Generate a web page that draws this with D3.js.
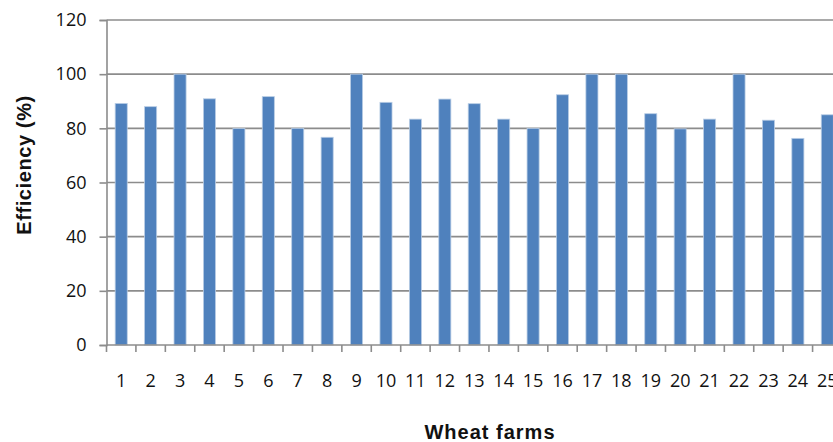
<!DOCTYPE html>
<html><head><meta charset="utf-8">
<script src="https://cdn.jsdelivr.net/npm/d3@7"></script>
<style>body{margin:0;background:#fff}svg{display:block}</style>
</head><body>
<script>
const categories = ["1","2","3","4","5","6","7","8","9","10","11","12","13","14","15","16","17","18","19","20","21","22","23","24","25"];
const efficiency = [89.2,88.0,100,90.9,79.9,91.7,80,76.7,100,89.6,83.4,90.8,89.1,83.4,80,92.4,100,100,85.4,79.8,83.4,100,83.0,76.3,85.0];
const yTicks = [0,20,40,60,80,100,120];

const W=833,H=442;
const svg=d3.select("body").append("svg").attr("width",W).attr("height",H);
const x=d3.scaleBand().domain(categories).range([106.5,842]).paddingInner(0.59).paddingOuter(0.295);
const y=d3.scaleLinear().domain([0,120]).range([345,20]);

// gridlines
svg.append("g").selectAll("line").data(yTicks.filter(d=>d>0)).join("line")
  .attr("x1",106.5).attr("x2",W).attr("y1",d=>y(d)).attr("y2",d=>y(d))
  .attr("stroke","#8c8c8c").attr("stroke-width",1.6);

// bars
svg.append("g").selectAll("rect").data(efficiency).join("rect")
  .attr("x",(d,i)=>x(categories[i])).attr("width",x.bandwidth())
  .attr("y",d=>y(d)).attr("height",d=>y(0)-y(d))
  .attr("fill","#4f81bd").attr("stroke","#b9cde5").attr("stroke-width",0.8);

// y axis
const ya=svg.append("g").attr("transform","translate(106.5,0)")
  .call(d3.axisLeft(y).tickValues(yTicks).tickSize(7).tickPadding(13).tickFormat(d3.format("d")));
ya.select(".domain").attr("stroke","#8c8c8c").attr("stroke-width",1.6);
ya.selectAll(".tick line").attr("stroke","#8c8c8c").attr("stroke-width",1.6);
ya.selectAll("text").attr("font-family","Open Sans, sans-serif").attr("font-size",18).attr("fill","#111");

// x axis
const xs=d3.scaleLinear().domain([0,25]).range([106.5,842]);
const xa=svg.append("g").attr("transform","translate(0,345)");
xa.append("line").attr("x1",106.5).attr("x2",W).attr("y1",0).attr("y2",0).attr("stroke","#8c8c8c").attr("stroke-width",1.6);
xa.selectAll("line.t").data(d3.range(0,26)).join("line").attr("class","t")
  .attr("x1",d=>xs(d)).attr("x2",d=>xs(d)).attr("y1",0).attr("y2",7)
  .attr("stroke","#8c8c8c").attr("stroke-width",1.6);
xa.selectAll("text").data(categories).join("text")
  .attr("x",d=>x(d)+x.bandwidth()/2).attr("y",42)
  .attr("text-anchor","middle").attr("font-family","Open Sans, sans-serif").attr("font-size",18).attr("fill","#111")
  .text(d=>d);

// axis titles
svg.append("text").attr("transform","translate(31,165) rotate(-90)").attr("text-anchor","middle")
  .attr("font-family","Liberation Sans, Arial, sans-serif").attr("font-weight","bold").attr("font-size",20)
  .attr("letter-spacing",0.6).attr("fill","#111")
  .text("Efficiency (%)");
svg.append("text").attr("x",490).attr("y",439).attr("text-anchor","middle")
  .attr("font-family","Liberation Sans, Arial, sans-serif").attr("font-weight","bold").attr("font-size",20)
  .attr("letter-spacing",1).attr("fill","#111")
  .text("Wheat farms");
</script>
</body></html>
